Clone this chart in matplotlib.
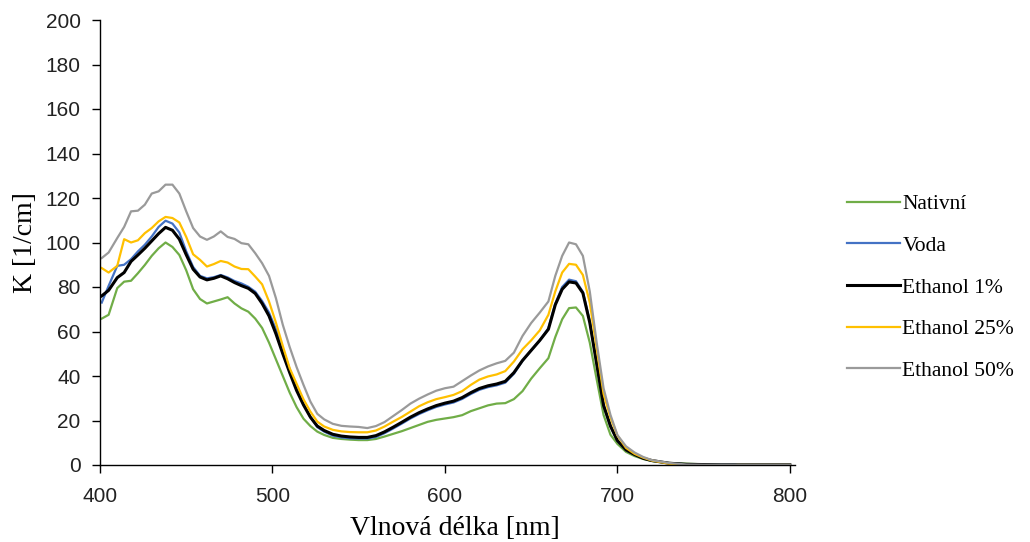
import matplotlib
matplotlib.use("Agg")
import matplotlib.pyplot as plt

wavelength = [401, 405, 410, 414, 418, 422, 426, 430, 434, 438, 442, 446, 450, 454, 458,
              462, 466, 470, 474, 478, 482, 486, 490, 494, 498, 502, 506, 510, 514, 518,
              522, 526, 530, 535, 540, 545, 550, 555, 560, 565, 570, 575, 580, 585, 590,
              595, 600, 605, 610, 615, 620, 625, 630, 635, 640, 645, 650, 655, 660, 664,
              668, 672, 676, 680, 684, 688, 692, 696, 700, 705, 710, 715, 720, 730, 740,
              750, 760, 770, 780, 790, 800]

nativni = [65.8, 67.5, 79.5, 82.4, 82.8, 86.2, 89.9, 94.0, 97.4, 100.0, 98.0, 94.4, 87.5, 79.0, 74.6,
           72.6, 73.5, 74.4, 75.4, 72.6, 70.4, 68.9, 65.8, 61.6, 55.0, 47.5, 40.0, 32.5, 26.0, 20.8,
           17.5, 15.0, 13.5, 12.2, 11.7, 11.4, 11.2, 11.2, 11.7, 12.8, 14.0, 15.2, 16.6, 18.0, 19.4,
           20.3, 20.9, 21.5, 22.4, 24.2, 25.5, 26.8, 27.6, 27.8, 29.6, 33.2, 38.8, 43.5, 48.0, 57.5,
           65.5, 70.5, 70.8, 67.0, 55.0, 38.5, 22.5, 13.6, 9.5, 5.9, 4.0, 2.7, 1.8, 0.9, 0.6,
           0.3, 0.1, 0.1, 0.1, 0.1, 0.1]

voda = [73.0, 80.5, 89.5, 90.0, 92.5, 96.0, 99.0, 102.7, 107.0, 109.8, 108.5, 104.5, 96.0, 89.0, 85.0,
        83.9, 84.4, 85.4, 84.3, 82.7, 81.6, 80.1, 77.9, 73.7, 68.5, 61.0, 52.0, 43.0, 34.5, 27.5,
        21.5, 17.0, 15.0, 13.2, 12.4, 12.0, 11.9, 11.9, 12.6, 14.3, 16.4, 18.6, 20.9, 22.9, 24.6,
        26.1, 27.2, 28.1, 29.7, 31.9, 33.8, 35.0, 35.8, 37.0, 41.0, 46.8, 51.5, 56.0, 61.5, 72.5,
        80.0, 83.3, 82.6, 77.8, 64.5, 45.5, 26.5, 17.3, 10.8, 6.7, 4.6, 3.0, 1.9, 0.8, 0.3,
        0.1, 0.1, 0.1, 0.1, 0.1, 0.1]

ethanol_1 = [76.0, 78.5, 84.2, 86.5, 91.5, 94.4, 97.4, 100.7, 104.0, 106.8, 105.5, 101.5, 94.5, 88.0, 84.5,
             83.2, 83.9, 85.0, 83.7, 82.0, 80.6, 79.4, 77.1, 72.6, 67.0, 59.0, 50.0, 41.5, 33.5, 27.0,
             21.5, 17.5, 15.5, 13.8, 13.0, 12.6, 12.4, 12.4, 13.2, 14.9, 17.0, 19.2, 21.5, 23.5, 25.2,
             26.7, 27.8, 28.7, 30.3, 32.5, 34.4, 35.6, 36.4, 37.6, 41.5, 47.0, 51.5, 56.0, 61.0, 72.0,
             79.0, 82.3, 81.8, 77.3, 64.0, 45.5, 26.8, 17.5, 11.0, 6.8, 4.7, 3.0, 2.0, 0.8, 0.3,
             0.2, 0.1, 0.1, 0.1, 0.1, 0.1]

ethanol_25 = [88.5, 86.5, 89.5, 101.5, 100.0, 101.0, 104.2, 106.5, 109.5, 111.5, 111.0, 109.0, 102.5, 94.7, 92.2,
              89.2, 90.3, 91.7, 91.0, 89.2, 88.1, 88.0, 84.7, 81.2, 73.5, 64.0, 53.5, 43.5, 36.5, 29.5,
              24.0, 19.5, 17.3, 15.8, 15.1, 14.8, 14.7, 14.7, 15.5, 17.3, 19.5, 21.6, 24.0, 26.4, 28.2,
              29.6, 30.5, 31.5, 33.2, 36.0, 38.4, 39.8, 40.7, 42.2, 46.5, 52.0, 56.0, 60.5, 67.5, 78.0,
              86.5, 90.4, 90.0, 85.4, 73.0, 52.5, 32.0, 21.3, 13.3, 7.7, 5.0, 3.3, 2.0, 0.6, -0.3,
              -0.4, -0.3, 0.0, 0.0, 0.0, 0.0]

ethanol_50 = [93.0, 95.5, 102.0, 107.0, 114.0, 114.3, 117.0, 122.0, 123.0, 126.0, 126.0, 122.0, 114.0, 106.5, 102.7,
              101.2, 102.7, 105.0, 102.5, 101.6, 99.7, 99.2, 95.2, 90.7, 85.0, 75.0, 63.0, 53.0, 44.0, 36.0,
              28.5, 23.0, 20.5, 18.5, 17.6, 17.3, 17.1, 16.6, 17.5, 19.3, 22.0, 24.7, 27.6, 29.8, 31.7,
              33.4, 34.5, 35.2, 37.7, 40.2, 42.5, 44.3, 45.7, 46.8, 50.5, 58.0, 63.8, 68.5, 73.5, 85.0,
              94.0, 100.0, 99.2, 94.0, 78.0, 55.0, 34.5, 22.5, 13.5, 8.4, 5.6, 3.6, 2.2, 0.9, 0.2,
              0.1, 0.1, 0.1, 0.1, 0.1, 0.1]

series = [
    ("Nativní", nativni, "#70AD47", 1.6),
    ("Voda", voda, "#4472C4", 1.6),
    ("Ethanol 1%", ethanol_1, "#000000", 2.2),
    ("Ethanol 25%", ethanol_25, "#FFC000", 1.6),
    ("Ethanol 50%", ethanol_50, "#9A9A9A", 1.6),
]

x_ticks = [400, 500, 600, 700, 800]
y_ticks = [0, 20, 40, 60, 80, 100, 120, 140, 160, 180, 200]

plt.rcParams['font.family'] = ['Liberation Serif', 'DejaVu Serif']

fig = plt.figure(figsize=(10.3, 5.42), dpi=100)
ax = fig.add_axes([100 / 1030, 77 / 542, 695 / 1030, 445 / 542])

for name, vals, col, lw in series:
    ax.plot(wavelength, vals, color=col, lw=lw, label=name, solid_joinstyle='round')

ax.set_xlim(400, 803)
ax.set_ylim(0, 200)
ax.set_xticks(x_ticks)
ax.set_yticks(y_ticks)
ax.tick_params(axis='both', direction='out', length=5.5, width=1, colors='black')
ax.tick_params(axis='x', pad=10.5)
ax.tick_params(axis='y', pad=8.5)
for lab in ax.get_xticklabels() + ax.get_yticklabels():
    lab.set_fontfamily(['Liberation Sans', 'DejaVu Sans'])
    lab.set_fontsize(15)
    lab.set_color('#222222')
for side in ['top', 'right']:
    ax.spines[side].set_visible(False)
for side in ['left', 'bottom']:
    ax.spines[side].set_linewidth(1.0)
    ax.spines[side].set_color('black')

ax.set_xlabel("Vlnová délka [nm]", fontsize=20)
ax.xaxis.set_label_coords(0.511, -0.114)
ax.xaxis.label.set_verticalalignment('top')
ax.set_ylabel("K [1/cm]", fontsize=20, labelpad=5)

fig.legend(loc='center left', bbox_to_anchor=(847 / 1030, 1 - 287.5 / 542), frameon=False,
           fontsize=15.5, handlelength=2.45, handletextpad=0.12, labelspacing=1.0,
           borderpad=0, borderaxespad=0)

fig.savefig("out.png", dpi=100)
